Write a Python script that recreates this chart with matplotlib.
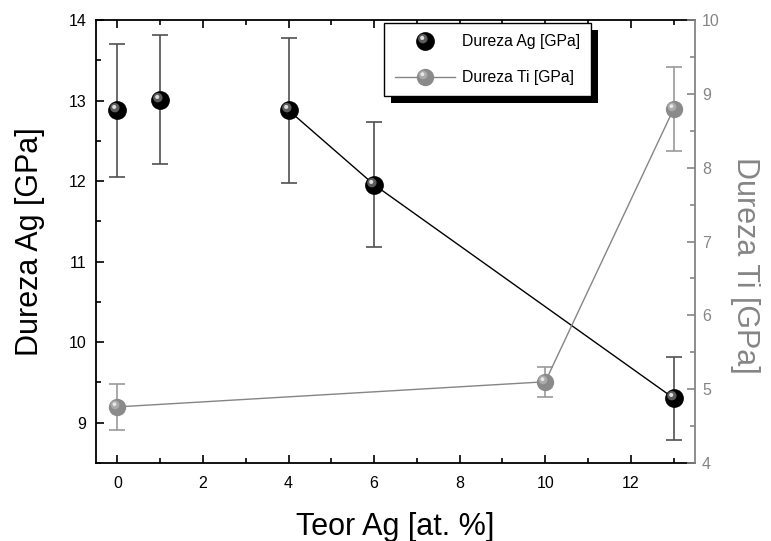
import numpy as np
import matplotlib
matplotlib.use('Agg')
import matplotlib.pyplot as plt
from matplotlib.path import Path
from matplotlib.patches import Shadow
from matplotlib.legend_handler import HandlerTuple
from matplotlib.ticker import MultipleLocator

plt.rcParams['font.family'] = ['Liberation Sans', 'DejaVu Sans']

# Dureza Ag (eixo da esquerda)
teor_ag = [0, 1, 4, 6, 13]
dureza_ag = [12.88, 13.01, 12.88, 11.955, 9.305]
erro_ag = [0.825, 0.80, 0.90, 0.775, 0.515]

# Dureza Ti (eixo da direita)
teor_ti = [0, 10, 13]
dureza_ti = [4.76, 5.10, 8.795]
erro_ti = [0.31, 0.20, 0.565]

cinza = '#858585'


def brilho(raio, cx, cy):
    # circulo deslocado do centro; os cantos em +-1 mantem a escala do marcador inteiro
    circ = Path.circle((cx, cy), raio)
    verts = np.vstack([[[-1, -1], [1, 1]], circ.vertices])
    codes = np.concatenate([[Path.MOVETO, Path.MOVETO], circ.codes])
    return Path(verts, codes)


def esfera(ax, x, y, base, meio, luz, ms, **kw):
    # marcador com cara de esfera: fundo, meio-tom e ponto de luz
    b, = ax.plot(x, y, marker='o', ms=ms, mfc=base, mec='none', **kw)
    m, = ax.plot(x, y, ls='none', marker=brilho(0.5, -0.28, 0.3), ms=ms, mfc=meio, mec='none', zorder=b.get_zorder())
    l, = ax.plot(x, y, ls='none', marker=brilho(0.22, -0.35, 0.38), ms=ms, mfc=luz, mec='none', zorder=b.get_zorder())
    return (b, m, l)


fig = plt.figure(figsize=(7.71, 5.41), dpi=100)
ax = fig.add_axes([96 / 771, 78 / 541, 599 / 771, 443 / 541])
ax2 = ax.twinx()

# Ag
ax.errorbar(teor_ag, dureza_ag, yerr=erro_ag, fmt='none', ecolor='#505050', elinewidth=1.2, capsize=6, capthick=1.2)
ax.plot(teor_ag[2:], dureza_ag[2:], color='black', lw=1)
h_ag = esfera(ax, teor_ag, dureza_ag, 'black', '#5c5c5c', '#dcdcdc', 13.5, ls='none', zorder=3)

# Ti
ax2.errorbar(teor_ti, dureza_ti, yerr=erro_ti, fmt='none', ecolor='#9a9a9a', elinewidth=1.2, capsize=6, capthick=1.2)
h_ti = esfera(ax2, teor_ti, dureza_ti, '#8a8a8a', '#ababab', '#e8e8e8', 12.5, ls='-', color=cinza, lw=1, zorder=3)

ax.set_xlim(-0.5, 13.5)
ax.set_ylim(8.5, 14)
ax2.set_ylim(4, 10)

ax.xaxis.set_major_locator(MultipleLocator(2))
ax.xaxis.set_minor_locator(MultipleLocator(1))
ax.yaxis.set_major_locator(MultipleLocator(1))
ax.yaxis.set_minor_locator(MultipleLocator(0.5))
ax2.yaxis.set_major_locator(MultipleLocator(1))
ax2.yaxis.set_minor_locator(MultipleLocator(0.5))

ax.tick_params(which='both', direction='in', top=True, right=False, width=1.2, labelsize=11.5)
ax.tick_params(which='major', length=6)
ax.tick_params(which='minor', length=3.5)
ax.tick_params(axis='x', pad=9)
ax.tick_params(axis='y', pad=7)
ax2.tick_params(which='both', direction='in', color=cinza, labelcolor=cinza, width=1.2, labelsize=11.5, pad=5)
ax2.tick_params(which='major', length=6)
ax2.tick_params(which='minor', length=3.5)

for s in ['left', 'bottom', 'top']:
    ax.spines[s].set_linewidth(1.3)
ax.spines['right'].set_visible(False)
for s in ['left', 'bottom', 'top']:
    ax2.spines[s].set_visible(False)
ax2.spines['right'].set_color(cinza)
ax2.spines['right'].set_linewidth(1.3)

ax.set_xlabel('Teor Ag [at. %]', fontsize=22, va='center')
ax.xaxis.set_label_coords(0.5, -0.144)
ax.set_ylabel('Dureza Ag [GPa]', fontsize=22, va='center', ha='center')
ax.yaxis.set_label_coords(-0.11, 0.5)
ax2.set_ylabel('Dureza Ti [GPa]', fontsize=22, color=cinza, rotation=270, va='center', ha='center')
ax2.yaxis.set_label_coords(1.0835, 0.445)

leg = ax2.legend([h_ag, h_ti], ['Dureza Ag [GPa]', 'Dureza Ti [GPa]'],
                 handler_map={tuple: HandlerTuple(ndivide=1, pad=0)},
                 loc='upper left', bbox_to_anchor=(0.4808, 0.9932), borderaxespad=0,
                 fontsize=11.3, handlelength=3.8, handletextpad=0.45, labelspacing=1.35,
                 borderpad=0.7, numpoints=1, fancybox=False, framealpha=1)
leg.get_frame().set_edgecolor('black')
leg.get_frame().set_linewidth(1)
leg.set_zorder(6)
sombra = Shadow(leg.get_frame(), 5, -5, facecolor='black', edgecolor='none', alpha=1)
sombra.set_zorder(5.9)
ax2.add_artist(sombra)

fig.canvas.draw()
fig.savefig('out.png', dpi=100)
